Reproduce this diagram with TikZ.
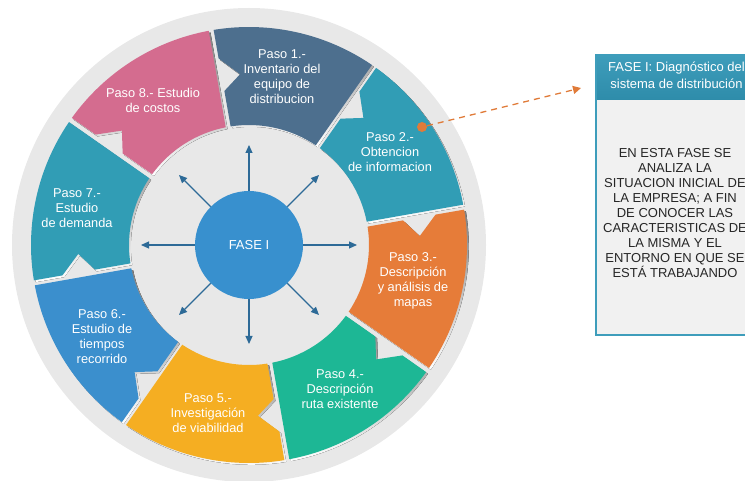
\documentclass[tikz,border=0pt]{standalone}
\usepackage{fontspec}
\setmainfont{Liberation Sans}
\usetikzlibrary{calc,arrows.meta}
\definecolor{cA}{HTML}{4D6F8E}
\definecolor{cB}{HTML}{319DB5}
\definecolor{cC}{HTML}{E67C39}
\definecolor{cD}{HTML}{1DB795}
\definecolor{cE}{HTML}{F5AE22}
\definecolor{cF}{HTML}{3B8FCD}
\definecolor{cG}{HTML}{319DB5}
\definecolor{cH}{HTML}{D46C8F}
\definecolor{hub}{HTML}{3890CE}
\definecolor{ringgray}{HTML}{E8E8E8}
\definecolor{shade}{HTML}{BDBDBD}
\definecolor{arrowblue}{HTML}{2D6A97}
\definecolor{dashor}{HTML}{E07B39}
\definecolor{boxteal}{HTML}{3E9DBB}
\definecolor{boxtealdark}{HTML}{2E8CAA}
\definecolor{boxbody}{HTML}{F1F1F1}
\definecolor{boxtext}{HTML}{262626}
\begin{document}
\begin{tikzpicture}[x=1pt,y=1pt,
  seglabel/.style={text=white, align=center, font=\fontsize{12.8}{15}\selectfont, inner sep=0pt},
  spoke/.style={draw=arrowblue, line width=1.2pt, -{Triangle[length=8pt,width=7pt]}},
  conn/.style={draw=dashor, line width=1.3pt, dash pattern=on 6pt off 5pt, -{Triangle[length=8pt,width=8pt]}},
  boxtxt/.style={text=boxtext, align=center, font=\fontsize{13}{15}\selectfont, inner sep=0pt},
  hdrtxt/.style={text=white, align=center, font=\fontsize{13}{17}\selectfont, inner sep=0pt}]
\useasboundingbox (0,0) rectangle (745,480);
\clip (0,0) rectangle (745,480);
% background disk
\fill[ringgray] (249,235) circle[radius=237];
% segments
\begin{scope}[shift={(249,235)}]
\foreach \a/\col in {55/cA,10/cB,-35/cC,-80/cD,-125/cE,-170/cF,145/cG,100/cH}{
  \pgfmathsetmacro\b{\a+45}
  \pgfmathsetmacro\ao{\a+0.66}
  \pgfmathsetmacro\bo{\b-0.66}
  \pgfmathsetmacro\ai{\a+1.19}
  \pgfmathsetmacro\bi{\b-1.19}
  \pgfmathsetmacro\bone{\b-0.75}
  \pgfmathsetmacro\btwo{\b-0.92}
  \pgfmathsetmacro\tp{\b-7}
  \fill[shade, transform canvas={shift={(1.8pt,-1.8pt)}}]
    (\ao:218) arc[start angle=\ao, end angle=\bo, radius=218]
    -- (\bone:189) -- (\tp:171) -- (\btwo:156)
    -- (\bi:120) arc[start angle=\bi, end angle=\ai, radius=120] -- cycle;
  \fill[\col]
    (\ao:218) arc[start angle=\ao, end angle=\bo, radius=218]
    -- (\bone:189) -- (\tp:171) -- (\btwo:156)
    -- (\bi:120) arc[start angle=\bi, end angle=\ai, radius=120] -- cycle;
}
\end{scope}
% hub
\node[circle, fill=hub, minimum size=108pt, inner sep=0pt, text=white,
      font=\fontsize{13}{15}\selectfont] (fase) at (249,235) {FASE I};
\foreach \ang/\len [count=\i] in {0/108,45/99,90/100,135/99,180/108,225/99,270/99,315/99}{
  \coordinate (t\i) at ($(fase.center)+(\ang:\len)$);
  \draw[spoke] (fase.\ang) -- (t\i);
}
% segment labels
\node[seglabel] (p1) at (282,403) {Paso 1.-\\Inventario del\\equipo de\\distribucion};
\node[seglabel] (p2) at (390,328) {Paso 2.-\\Obtencion\\de informacion};
\node[seglabel] (p3) at (413,199) {Paso 3.-\\Descripción\\y análisis de\\mapas};
\node[seglabel] (p4) at (340,91) {Paso 4.-\\Descripción\\ruta existente};
\node[seglabel] (p5) at (208,67) {Paso 5.-\\Investigación\\de viabilidad};
\node[seglabel] (p6) at (102,143) {Paso 6.-\\Estudio de\\tiempos\\recorrido};
\node[seglabel] (p7) at (77,272) {Paso 7.-\\Estudio\\de demanda};
\node[seglabel] (p8) at (153,380) {Paso 8.- Estudio\\de costos};
% info box
\fill[shade] (598,143) rectangle (772,423);
\fill[boxbody] (596,145) rectangle (770,380);
\fill[top color=boxteal, bottom color=boxtealdark] (596,380) rectangle (770,425);
\draw[boxteal, line width=1.2pt] (596,145) rectangle (770,425);
\node[hdrtxt] (hdr) at (676.5,404.5) {FASE I: Diagnóstico del\\sistema de distribución};
\node[boxtxt] (body) at (675,267) {EN ESTA FASE SE\\ANALIZA LA\\SITUACION INICIAL DE\\LA EMPRESA; A FIN\\DE CONOCER LAS\\CARACTERISTICAS DE\\LA MISMA Y EL\\ENTORNO EN QUE SE\\ESTÁ TRABAJANDO};
% connector
\node[circle, fill=dashor, minimum size=10pt, inner sep=0pt] (dot) at (422,353) {};
\coordinate (dend) at (581,392);
\draw[conn] (dot) -- (dend);
\end{tikzpicture}
\end{document}
